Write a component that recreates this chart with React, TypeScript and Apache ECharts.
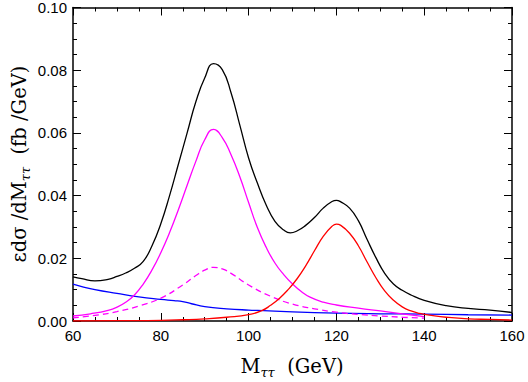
import React, { useEffect, useRef } from "react";
import * as echarts from "echarts";

// Total (black)
const totalX = [60, 62, 65, 68, 70, 72, 74, 76, 78, 80, 82, 84, 86, 88, 90, 92, 94, 96, 98, 100, 102, 104, 106, 108, 109.5, 111, 113, 115, 117, 119, 120, 121, 123, 125, 127, 129, 131, 133, 135, 137, 140, 145, 150, 155, 160];
const totalY = [0.0141, 0.0135, 0.0128, 0.0133, 0.0142, 0.0153, 0.0168, 0.019, 0.024, 0.031, 0.04, 0.05, 0.06, 0.07, 0.0775, 0.0821, 0.0802, 0.0728, 0.0625, 0.052, 0.044, 0.037, 0.0318, 0.029, 0.0281, 0.0287, 0.0305, 0.033, 0.036, 0.0381, 0.0385, 0.038, 0.036, 0.032, 0.026, 0.0202, 0.0152, 0.0118, 0.0098, 0.0083, 0.0066, 0.0049, 0.004, 0.0035, 0.0027];

// Z peak (magenta solid)
const zX = [60, 64, 68, 70, 72, 74, 76, 78, 80, 82, 84, 86, 88, 90, 92, 94, 96, 98, 100, 102, 104, 106, 108, 110, 112, 114, 117, 120, 125, 130, 135, 140];
const zY = [0.0016, 0.0023, 0.0034, 0.0044, 0.006, 0.0083, 0.0118, 0.0163, 0.0218, 0.0282, 0.0355, 0.0433, 0.051, 0.0578, 0.0611, 0.0585, 0.053, 0.046, 0.0378, 0.0298, 0.0235, 0.0185, 0.0148, 0.0118, 0.0094, 0.0076, 0.006, 0.0051, 0.0041, 0.0032, 0.0023, 0.0014];

// Z peak, second component (magenta dashed)
const zdX = [60, 65, 70, 75, 80, 85, 88, 90, 92, 94, 96, 100, 105, 110, 115, 120, 125, 130, 135, 140];
const zdY = [0.001, 0.0018, 0.003, 0.0048, 0.0073, 0.0115, 0.0145, 0.0162, 0.0171, 0.0166, 0.0152, 0.0115, 0.0079, 0.0054, 0.0039, 0.0028, 0.0021, 0.0016, 0.0012, 0.0009];

// Higgs signal (red)
const hX = [60, 70, 80, 85, 90, 95, 100, 103, 105, 107, 109, 111, 113, 115, 117, 119, 120, 121, 123, 125, 127, 129, 131, 133, 135, 137, 139, 142, 145, 150, 155, 160];
const hY = [0.0, 0.0001, 0.0002, 0.0004, 0.0007, 0.0012, 0.002, 0.0033, 0.005, 0.0072, 0.01, 0.0134, 0.0176, 0.0224, 0.027, 0.0302, 0.0309, 0.0305, 0.028, 0.024, 0.0188, 0.0138, 0.0096, 0.0066, 0.0045, 0.0032, 0.0024, 0.0017, 0.0012, 0.0007, 0.0005, 0.0003];

// Other background (blue)
const bX = [60, 62, 65, 70, 75, 80, 83, 85, 87, 90, 95, 100, 110, 120, 130, 140, 150, 160];
const bY = [0.0118, 0.011, 0.01, 0.0088, 0.0077, 0.0069, 0.0065, 0.0062, 0.0055, 0.0046, 0.0039, 0.0035, 0.0029, 0.0025, 0.0023, 0.0022, 0.002, 0.0019];

const xTicks = [60, 80, 100, 120, 140, 160];

const pairs = (xs: number[], ys: number[]) => xs.map((x, i) => [x, ys[i]]);

const serif = "DejaVu Serif, Liberation Serif, serif";
const titleRich = {
  m: { fontFamily: serif, fontSize: 19.5, fill: "#000", lineHeight: 26, verticalAlign: "middle" },
  s: { fontFamily: serif, fontSize: 13, fontStyle: "italic", fill: "#000", lineHeight: 8, verticalAlign: "bottom" },
};

export default function App() {
  const ref = useRef<HTMLDivElement>(null);
  useEffect(() => {
    if (!ref.current) return;
    const chart = echarts.init(ref.current, undefined, { renderer: "svg" });
    const labelFont = { fontFamily: "Liberation Sans, Arial, sans-serif", fontSize: 15, color: "#000" };
    const axisCommon = {
      axisLine: { show: true, onZero: false, lineStyle: { color: "#000", width: 1.5 } },
      axisTick: { show: true, inside: true, length: 8, lineStyle: { color: "#000", width: 1 } },
      minorTick: { show: true, splitNumber: 4, length: 4, lineStyle: { color: "#000", width: 1 } },
      splitLine: { show: false },
    };
    const line = (name: string, xs: number[], ys: number[], color: string, dashed = false, z = 2) => ({
      name,
      type: "line",
      data: pairs(xs, ys),
      showSymbol: false,
      smooth: 0.5,
      z,
      lineStyle: { color, width: 1.3, type: dashed ? [6, 4] : "solid" },
    });
    chart.setOption({
      animation: false,
      backgroundColor: "#fff",
      grid: { left: 73, top: 7, right: 16, bottom: 61, containLabel: false },
      xAxis: [
        {
          type: "value", min: 60, max: 160, interval: 20, position: "bottom",
          ...axisCommon,
          axisLabel: { ...labelFont, margin: 7, formatter: (v: number) => (xTicks.includes(v) ? String(v) : "") },
        },
        {
          type: "value", min: 60, max: 160, interval: 20, position: "top",
          ...axisCommon, axisLabel: { show: false },
        },
      ],
      yAxis: [
        {
          type: "value", min: 0, max: 0.1, interval: 0.02, position: "left",
          ...axisCommon,
          axisLabel: { ...labelFont, margin: 6, formatter: (v: number) => v.toFixed(2) },
        },
        {
          type: "value", min: 0, max: 0.1, interval: 0.02, position: "right",
          ...axisCommon, axisLabel: { show: false },
        },
      ],
      series: [
        line("Other", bX, bY, "#0000ff"),
        line("Z dashed", zdX, zdY, "#ff00ff", true),
        line("Z", zX, zY, "#ff00ff"),
        line("Higgs", hX, hY, "#ff0000", false, 3),
        line("Total", totalX, totalY, "#000000", false, 4),
      ],
      graphic: [
        {
          type: "text",
          x: 292,
          y: 366,
          style: {
            text: "{m|M}{s|ττ}{m|  (GeV)}",
            align: "center",
            verticalAlign: "middle",
            rich: titleRich,
          },
        },
        {
          type: "text",
          x: 19,
          y: 164,
          rotation: Math.PI / 2,
          style: {
            text: "{m|εdσ /dM}{s|ττ}{m|  (fb /GeV)}",
            align: "center",
            verticalAlign: "middle",
            rich: titleRich,
          },
        },
      ],
    });
    return () => chart.dispose();
  }, []);
  return <div ref={ref} style={{ position: "absolute", left: 0, top: 0, width: 528, height: 382, background: "#fff" }} />;
}
